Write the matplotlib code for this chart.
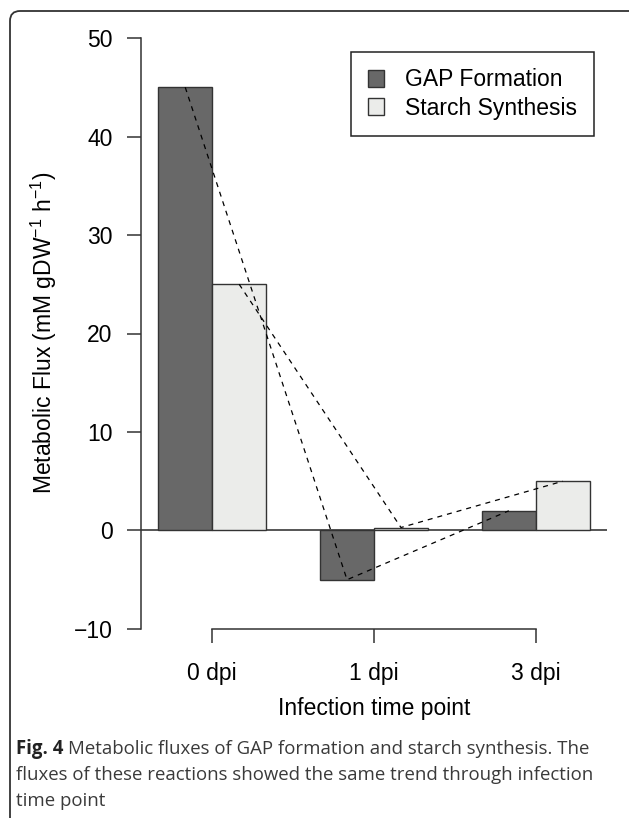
import matplotlib
matplotlib.use('Agg')
import matplotlib.pyplot as plt
from matplotlib.patches import Patch, FancyBboxPatch
from matplotlib.transforms import IdentityTransform

plt.rcParams['font.family'] = ['Liberation Sans', 'DejaVu Sans']
plt.rcParams['mathtext.fontset'] = 'custom'
plt.rcParams['mathtext.rm'] = 'Liberation Sans'
plt.rcParams['mathtext.it'] = 'Liberation Sans:italic'

# data
time_points = ['0 dpi', '1 dpi', '3 dpi']
gap_formation = [45, -5, 2]
starch_synthesis = [25, 0.3, 5]
series_names = ['GAP Formation', 'Starch Synthesis']
y_ticks = [-10, 0, 10, 20, 30, 40, 50]
caption_bold = 'Fig. 4'
caption_lines = ['Metabolic fluxes of GAP formation and starch synthesis. The',
                 'fluxes of these reactions showed the same trend through infection',
                 'time point']

W, H = 629, 818
FS = 16.5
fig = plt.figure(figsize=(W / 100, H / 100), dpi=100)


def px(x, y):
    return x / W, 1 - y / H


# R style barplot positions (width 1, one bar gap between groups)
gap_x = [1.5 + 3 * i for i in range(len(time_points))]
starch_x = [x + 1 for x in gap_x]
centers = [x + 0.5 for x in gap_x]

ax = fig.add_axes([141 / W, 1 - 652.6 / H, 466 / W, 638.2 / H])
ax.set_xlim(0.68, 9.32)
ax.set_ylim(-12.4, 52.4)
ax.patch.set_alpha(0)

ax.axhline(0, color='#555555', lw=1.4, zorder=1)
ax.bar(gap_x, gap_formation, width=1, color='#686868', edgecolor='#333333', lw=1, zorder=2)
ax.bar(starch_x, starch_synthesis, width=1, color='#ebecea', edgecolor='#333333', lw=1, zorder=2)
ax.plot(gap_x, gap_formation, color='black', lw=0.9, dashes=[4, 4], zorder=3)
ax.plot(starch_x, starch_synthesis, color='black', lw=0.9, dashes=[4, 4], zorder=3)

for s in ['top', 'right']:
    ax.spines[s].set_visible(False)
ax.spines['left'].set_bounds(-10, 50)
ax.spines['bottom'].set_position(('data', -10))
ax.spines['bottom'].set_bounds(centers[0], centers[-1])
for s in ['left', 'bottom']:
    ax.spines[s].set_color('#333333')
    ax.spines[s].set_linewidth(1.1)

ax.set_yticks(y_ticks)
ax.set_yticklabels([str(v).replace('-', '\u2212') for v in y_ticks])
ax.set_xticks(centers)
ax.set_xticklabels(time_points)
ax.tick_params(axis='both', length=10, width=1.1, color='#333333', labelsize=FS)
ax.tick_params(axis='y', pad=10.5)
ax.tick_params(axis='x', pad=13.5)

fig.text(*px(374, 709), 'Infection time point', ha='center', va='center', fontsize=FS)
fig.text(*px(44, 333), 'Metabolic Flux (mM gDW$^{-1}$ h$^{-1}$)', ha='center', va='center',
         rotation=90, fontsize=FS)

handles = [Patch(facecolor='#686868', edgecolor='#333333', lw=1),
           Patch(facecolor='#ebecea', edgecolor='#333333', lw=1)]
leg = ax.legend(handles, series_names, loc='upper left', bbox_to_anchor=px(351, 52),
                bbox_transform=fig.transFigure, fancybox=False, edgecolor='#222222',
                fontsize=FS, handlelength=0.7, handleheight=0.7, handletextpad=0.95,
                labelspacing=0.22, borderpad=0.72, borderaxespad=0, framealpha=1)
leg.get_frame().set_linewidth(1.1)

# rounded frame around the figure panel, in pixel units (right and bottom run off the page)
frame = FancyBboxPatch((10, -30), 680, 807 + 30, boxstyle='round,pad=0,rounding_size=10',
                       transform=IdentityTransform(), fill=False, edgecolor='#333333', lw=1.3)
fig.patches.append(frame)

# caption
cap_font = ['Open Sans', 'DejaVu Sans']
cap_size = 13.4
cap_y = [749, 775, 801]
bold = fig.text(*px(16, cap_y[0]), caption_bold + ' ', ha='left', va='center', fontsize=cap_size,
                family=cap_font, weight='bold', color='#222222')
fig.canvas.draw()
bb = bold.get_window_extent()
fig.text(bb.x1 / W, 1 - cap_y[0] / H, caption_lines[0], ha='left', va='center',
         fontsize=cap_size, family=cap_font, color='#3a3a3a')
for line, y in zip(caption_lines[1:], cap_y[1:]):
    fig.text(*px(16, y), line, ha='left', va='center', fontsize=cap_size,
             family=cap_font, color='#3a3a3a')

fig.savefig('out.png', dpi=100)
